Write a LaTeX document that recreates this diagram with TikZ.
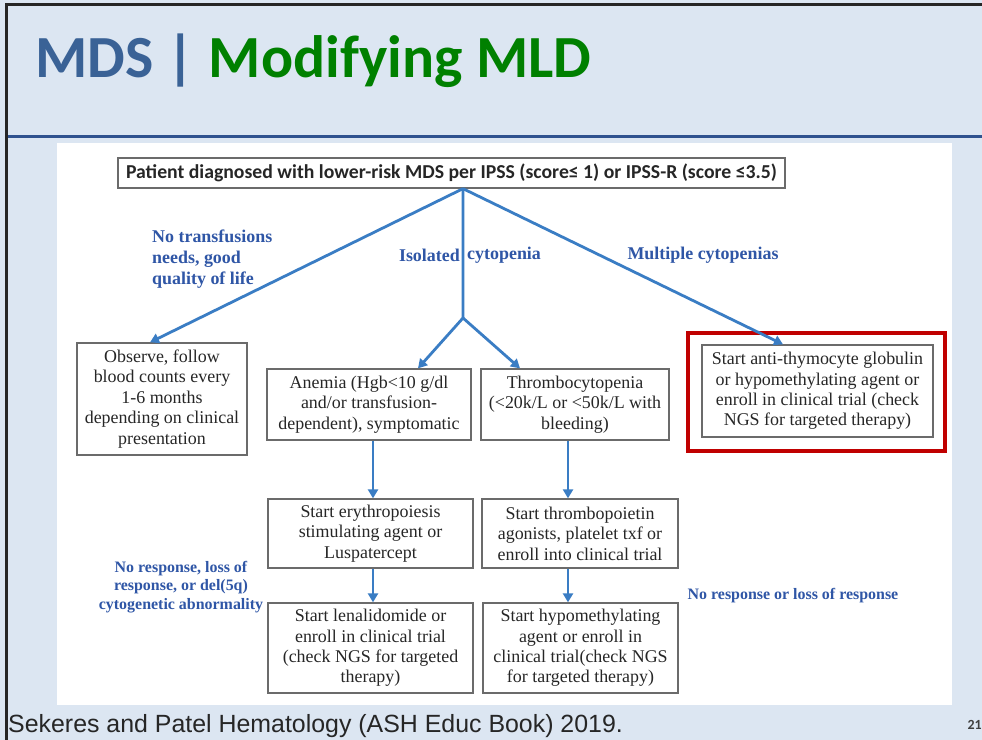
\documentclass[tikz,border=0pt]{standalone}
\usepackage{fontspec}
\setmainfont{Liberation Serif}
\newfontfamily\calib{Carlito}
\newfontfamily\arial{Liberation Sans}
\usetikzlibrary{arrows.meta}

\definecolor{fond}{HTML}{DCE6F2}
\definecolor{cadre}{HTML}{262626}
\definecolor{trait}{HTML}{2F528F}
\definecolor{titrebleu}{HTML}{3A6296}
\definecolor{titrevert}{HTML}{008000}
\definecolor{flechebleu}{HTML}{3A7DC4}
\definecolor{etiqbleu}{HTML}{2F56A6}
\definecolor{boitegris}{HTML}{6B6B6B}
\definecolor{rouge}{HTML}{C00000}

\tikzset{
  boite/.style={draw=boitegris, line width=1.3bp, fill=white, align=center,
    inner sep=0pt, text=black!85, font=\fontsize{18}{20.5}\selectfont},
  fleche/.style={draw=flechebleu, line width=2.8bp,
    -{Triangle[length=9bp,width=10bp]}},
  etiq/.style={text=etiqbleu, inner sep=0pt, align=left,
    font=\bfseries\fontsize{18}{21}\selectfont},
  petiteetiq/.style={etiq, align=center, font=\bfseries\fontsize{16}{18.5}\selectfont},
}

\begin{document}
\begin{tikzpicture}[x=1bp,y=-1bp]
    \useasboundingbox (0,0) rectangle (982,740);

    % fond de la diapo
    \fill[fond] (0,0) rectangle (982,740);
    \fill[white] (57,143) rectangle (952,705);
    \draw[cadre, line width=3bp] (5,5) -- (982,5);
    \draw[cadre, line width=3bp] (6.5,4) -- (6.5,740);
    \draw[trait, line width=3bp] (8,136.5) -- (982,136.5);

    % titre
    \node[anchor=base west, inner sep=0pt,
          font=\calib\bfseries\fontsize{60}{62}\selectfont] (titre) at (35,78)
        {\textcolor{titrebleu}{MDS |} \textcolor{titrevert}{Modifying MLD}};

    % boites du schema
    \node[boite, minimum width=667bp, minimum height=30bp,
          font=\calib\bfseries\fontsize{19.8}{22}\selectfont] (patient) at (451.5,173)
        {Patient diagnosed with lower-risk MDS per IPSS (score≤ 1) or IPSS-R (score ≤3.5)};
    \node[boite, minimum width=170bp, minimum height=112bp] (observe) at (162,399)
        {Observe, follow\\blood counts every\\1-6 months\\depending on clinical\\presentation};
    \node[boite, minimum width=204bp, minimum height=71bp] (anemie) at (369,404.5)
        {Anemia (Hgb<10 g/dl\\and/or transfusion-\\dependent), symptomatic};
    \node[boite, minimum width=188bp, minimum height=71bp] (thrombo) at (575,404.5)
        {Thrombocytopenia\\(<20k/L or <50k/L with\\bleeding)};
    \node[draw=rouge, line width=3.5bp, minimum width=257bp, minimum height=118bp,
          inner sep=0pt] (cadrerouge) at (816.5,392) {};
    \node[boite, minimum width=231bp, minimum height=92bp] (atg) at (817.5,391)
        {Start anti-thymocyte globulin\\or hypomethylating agent or\\enroll in clinical trial (check\\NGS for targeted therapy)};
    \node[boite, minimum width=205bp, minimum height=69bp] (esa) at (370.5,533.5)
        {Start erythropoiesis\\stimulating agent or\\Luspatercept};
    \node[boite, minimum width=196bp, minimum height=69bp] (tpo) at (580,533.5)
        {Start thrombopoietin\\agonists, platelet txf or\\enroll into clinical trial};
    \node[boite, minimum width=205bp, minimum height=90bp] (lenal) at (370.5,648)
        {Start lenalidomide or\\enroll in clinical trial\\(check NGS for targeted\\therapy)};
    \node[boite, minimum width=195bp, minimum height=90bp] (hypo) at (580.5,648)
        {Start hypomethylating\\agent or enroll in\\clinical trial(check NGS\\for targeted therapy)};

    % fleches
    \coordinate (fourche) at ([xshift=11.5bp]patient.south);
    \coordinate (milieu) at (463,318);
    \draw[flechebleu, line width=2.8bp] (fourche) -- (milieu);
    \draw[fleche] (fourche) -- ([xshift=-12bp]observe.north);
    \draw[fleche] (fourche) -- ([xshift=-34.5bp]atg.north);
    \draw[fleche] (milieu) -- ([xshift=49bp]anemie.north);
    \draw[fleche] (milieu) -- ([xshift=-55bp]thrombo.north);

    \coordinate (a1) at ([xshift=4bp]anemie.south);
    \coordinate (a2) at (a1 |- esa.south);
    \draw[fleche] (a1) -- (a1 |- esa.north);
    \draw[fleche] (a2) -- (a2 |- lenal.north);
    \coordinate (b1) at ([xshift=-7bp]thrombo.south);
    \coordinate (b2) at (b1 |- tpo.south);
    \draw[fleche] (b1) -- (b1 |- tpo.north);
    \draw[fleche] (b2) -- (b2 |- hypo.north);

    % etiquettes
    \node[etiq, anchor=west] (pastransf) at (152,259)
        {No transfusions\\needs, good\\quality of life};
    \node[etiq, anchor=east] (isole) at (460,255) {Isolated};
    \node[etiq, anchor=west] (isole2) at (467,255) {cytopenia};
    \node[etiq] (multiple) at (703,255) {Multiple cytopenias};
    \node[petiteetiq] (pasrep) at (181,587)
        {No response, loss of\\response, or del(5q)\\cytogenetic abnormality};
    \node[petiteetiq] (pasrep2) at (793,596) {No response or loss of response};

    % source et numero
    \node[anchor=base west, inner sep=0pt, text=black!85,
          font=\arial\fontsize{25}{28}\selectfont] (source) at (8,732)
        {Sekeres and Patel Hematology (ASH Educ Book) 2019.};
    \node[anchor=base east, inner sep=0pt, text=black!75,
          font=\calib\bfseries\fontsize{14}{15}\selectfont] (page) at (982,729) {21};
\end{tikzpicture}
\end{document}
